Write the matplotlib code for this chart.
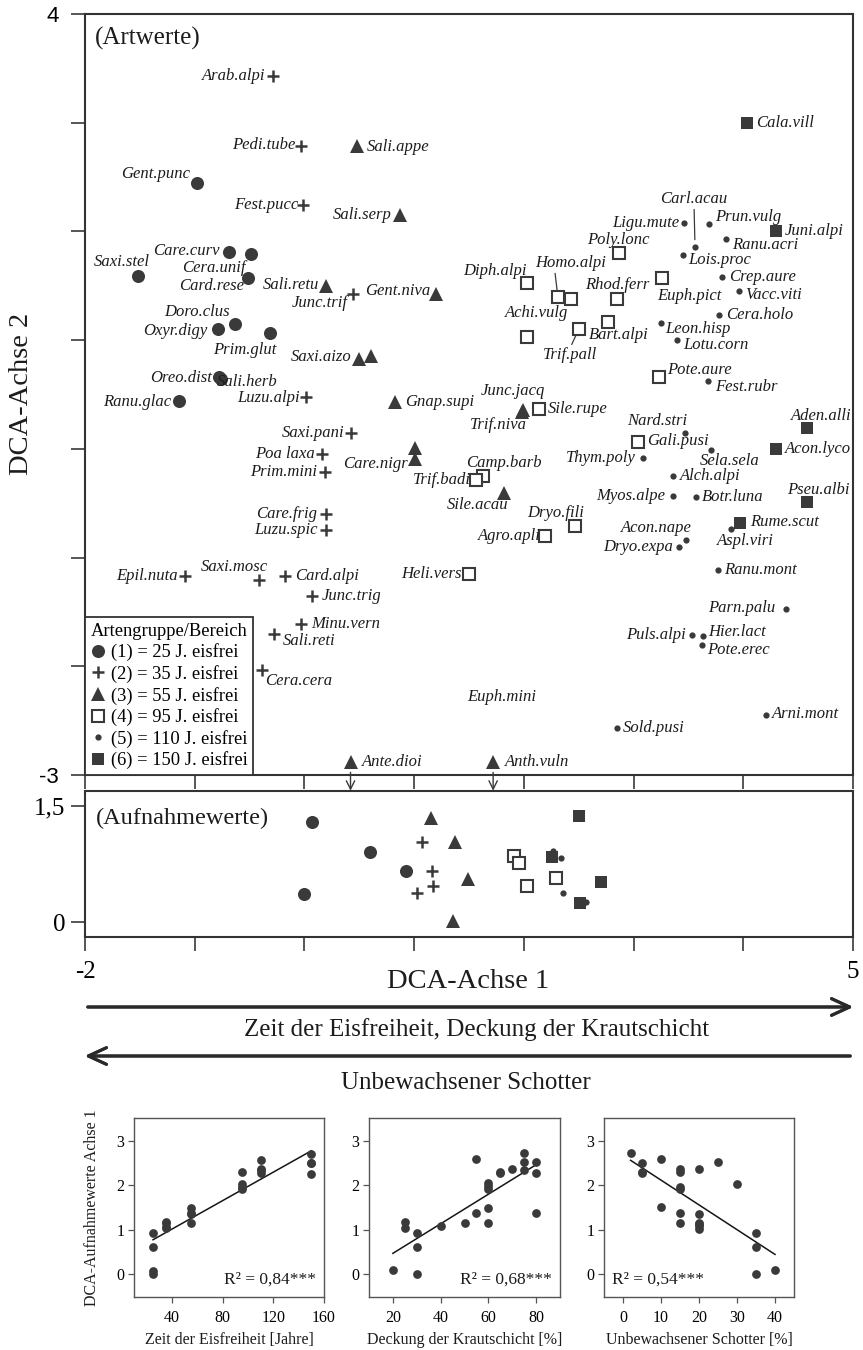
import matplotlib
matplotlib.use('Agg')
import matplotlib.pyplot as plt
from matplotlib.lines import Line2D
import numpy as np

plt.rcParams['font.family'] = ['Liberation Serif', 'DejaVu Serif']

DARK = '#3a3a3a'
INK = '#1c1c1c'

# ---- species scores (DCA axis 1 / axis 2), by species group ----
g1_names = ['Gent.punc', 'Care.curv', 'Cera.unif', 'Saxi.stel', 'Card.rese', 'Doro.clus',
            'Oxyr.digy', 'Prim.glut', 'Oreo.dist', 'Sali.herb', 'Ranu.glac']
g1_x = [-0.98, -0.69, -0.49, -1.52, -0.51, -0.63, -0.79, -0.31, -0.78, -0.76, -1.14]
g1_y = [2.45, 1.81, 1.79, 1.59, 1.57, 1.15, 1.10, 1.07, 0.66, 0.64, 0.44]

g2_names = ['Arab.alpi', 'Pedi.tube', 'Fest.pucc', 'Junc.trif', 'Luzu.alpi', 'Saxi.pani',
            'Poa laxa', 'Prim.mini', 'Care.frig', 'Luzu.spic', 'Epil.nuta', 'Saxi.mosc',
            'Card.alpi', 'Junc.trig', 'Minu.vern', 'Sali.reti', 'Cera.cera']
g2_x = [-0.29, -0.03, -0.01, 0.44, 0.01, 0.42, 0.16, 0.19, 0.20, 0.20, -1.09, -0.41,
        -0.18, 0.07, -0.03, -0.28, -0.39]
g2_y = [3.43, 2.79, 2.24, 1.42, 0.48, 0.15, -0.05, -0.21, -0.60, -0.75, -1.17, -1.21,
        -1.17, -1.35, -1.61, -1.70, -2.03]

g3_names = ['Sali.appe', 'Sali.serp', 'Sali.retu', 'Gent.niva', 'Saxi.aizo', '', 'Gnap.supi',
            '', 'Care.nigr', 'Junc.jacq', 'Trif.niva', 'Sile.acau', 'Ante.dioi', 'Anth.vuln']
g3_x = [0.48, 0.87, 0.20, 1.20, 0.50, 0.61, 0.83, 1.01, 1.01, 1.99, 1.98, 1.82, 0.42, 1.72]
g3_y = [2.79, 2.15, 1.50, 1.42, 0.83, 0.85, 0.43, 0.01, -0.09, 0.36, 0.34, -0.41, -2.88, -2.88]

g4_names = ['Poly.lonc', 'Diph.alpi', 'Euph.pict', 'Homo.alpi', '', 'Rhod.ferr', 'Bart.alpi',
            'Trif.pall', 'Achi.vulg', 'Pote.aure', 'Sile.rupe', 'Gali.pusi', 'Camp.barb',
            'Trif.badi', 'Dryo.fili', 'Agro.apli', 'Heli.vers']
g4_x = [2.87, 2.03, 3.26, 2.31, 2.43, 2.85, 2.77, 2.50, 2.03, 3.23, 2.14, 3.04, 1.63,
        1.56, 2.47, 2.19, 1.50]
g4_y = [1.80, 1.53, 1.57, 1.40, 1.38, 1.38, 1.17, 1.10, 1.03, 0.66, 0.37, 0.06, -0.25,
        -0.29, -0.71, -0.80, -1.15]

g5_names = ['Carl.acau', 'Ligu.mute', 'Prun.vulg', 'Ranu.acri', 'Lois.proc', 'Crep.aure',
            'Vacc.viti', 'Cera.holo', 'Leon.hisp', 'Lotu.corn', 'Fest.rubr', 'Nard.stri',
            'Sela.sela', 'Thym.poly', 'Alch.alpi', 'Myos.alpe', 'Botr.luna', 'Aspl.viri',
            'Acon.nape', 'Dryo.expa', 'Ranu.mont', 'Parn.palu', 'Puls.alpi', 'Hier.lact',
            'Pote.erec', 'Arni.mont', 'Sold.pusi']
g5_x = [3.56, 3.46, 3.69, 3.84, 3.45, 3.81, 3.96, 3.78, 3.25, 3.40, 3.68, 3.47, 3.71, 3.09,
        3.36, 3.36, 3.57, 3.89, 3.48, 3.41, 3.77, 4.39, 3.53, 3.63, 3.62, 4.21, 2.85]
g5_y = [1.86, 2.08, 2.07, 1.93, 1.78, 1.58, 1.45, 1.23, 1.16, 1.00, 0.62, 0.15, -0.01,
        -0.08, -0.25, -0.43, -0.44, -0.74, -0.84, -0.90, -1.11, -1.47, -1.71, -1.72,
        -1.80, -2.45, -2.57]

g6_names = ['Cala.vill', 'Juni.alpi', 'Aden.alli', 'Acon.lyco', 'Pseu.albi', 'Rume.scut']
g6_x = [4.03, 4.30, 4.58, 4.30, 4.58, 3.97]
g6_y = [3.00, 2.00, 0.19, 0.00, -0.49, -0.68]

# species printed without symbol
nosym_names = ['Euph.mini']
nosym_x = [1.80]
nosym_y = [-2.28]

off_scale = ['Ante.dioi', 'Anth.vuln']

group_labels = ['(1) = 25 J. eisfrei', '(2) = 35 J. eisfrei', '(3) = 55 J. eisfrei',
                '(4) = 95 J. eisfrei', '(5) = 110 J. eisfrei', '(6) = 150 J. eisfrei']

# ---- releve scores ----
rel_group = [1, 1, 1, 1, 2, 2, 2, 2, 3, 3, 3, 3, 4, 4, 4, 4, 5, 5, 5, 5, 6, 6, 6, 6]
rel_years = [25, 25, 25, 25, 35, 35, 35, 35, 55, 55, 55, 55, 95, 95, 95, 95,
             110, 110, 110, 110, 150, 150, 150, 150]
rel_dca1 = [0.07, 0.60, 0.93, 0.00, 1.07, 1.16, 1.17, 1.03, 1.15, 1.37, 1.49, 1.35,
            1.91, 1.96, 2.03, 2.29, 2.27, 2.34, 2.36, 2.57, 2.50, 2.26, 2.70, 2.51]
rel_dca2 = [1.29, 0.91, 0.66, 0.36, 1.03, 0.66, 0.47, 0.38, 1.35, 1.03, 0.56, 0.01,
            0.85, 0.76, 0.47, 0.57, 0.92, 0.83, 0.38, 0.26, 1.37, 0.84, 0.52, 0.25]

cover_pct = [20, 25, 25, 30, 30, 30, 40, 50, 55, 55, 60, 60, 60, 60, 60, 65, 65, 70,
             75, 75, 75, 80, 80, 80]
cover_dca1 = [0.09, 1.17, 1.04, 0.93, 0.60, 0.00, 1.08, 1.15, 2.60, 1.37, 1.16, 1.50,
              1.92, 1.98, 2.05, 2.27, 2.30, 2.38, 2.72, 2.52, 2.35, 2.52, 2.28, 1.37]

gravel_pct = [2, 5, 5, 5, 10, 10, 15, 15, 15, 15, 15, 15, 20, 20, 20, 20, 20, 20, 25, 30,
              35, 35, 35, 40]
gravel_dca1 = [2.72, 2.51, 2.29, 2.27, 2.59, 1.51, 2.37, 2.29, 1.97, 1.92, 1.38, 1.16,
               2.37, 1.36, 1.16, 1.08, 1.02, 1.12, 2.52, 2.04, 0.93, 0.60, 0.00, 0.08]

# ---- label placement (pixel offsets from the symbol) ----
LABEL_OFFSET = {
    'Gent.punc': (-7, 9, 'right'), 'Care.curv': (-9, 1, 'right'), 'Cera.unif': (-5, -14, 'right'),
    'Saxi.stel': (12, 14, 'right'), 'Card.rese': (-4, -8, 'right'), 'Doro.clus': (-5, 12, 'right'),
    'Oxyr.digy': (-10, -2, 'right'), 'Prim.glut': (6, -17, 'right'), 'Oreo.dist': (-7, -1, 'right'),
    'Sali.herb': (-4, -3, 'left'), 'Ranu.glac': (-8, -1, 'right'),
    'Arab.alpi': (-7, 0, 'right'), 'Pedi.tube': (-6, 1, 'right'), 'Fest.pucc': (-5, 0, 'right'),
    'Junc.trif': (-5, -9, 'right'), 'Luzu.alpi': (-6, -1, 'right'), 'Saxi.pani': (-6, 0, 'right'),
    'Poa laxa': (-7, 0, 'right'), 'Prim.mini': (-8, 0, 'right'), 'Care.frig': (-9, 0, 'right'),
    'Luzu.spic': (-9, 0, 'right'), 'Epil.nuta': (-7, 0, 'right'), 'Saxi.mosc': (8, 13, 'right'),
    'Card.alpi': (10, 0, 'left'), 'Junc.trig': (10, 0, 'left'), 'Minu.vern': (10, 0, 'left'),
    'Sali.reti': (9, -7, 'left'), 'Cera.cera': (3, -11, 'left'),
    'Sali.appe': (10, -1, 'left'), 'Sali.serp': (-8, 0, 'right'), 'Sali.retu': (-7, 1, 'right'),
    'Gent.niva': (-6, 3, 'right'), 'Saxi.aizo': (-8, 2, 'right'), 'Gnap.supi': (10, 0, 'left'),
    'Care.nigr': (-7, -5, 'right'), 'Junc.jacq': (-10, 19, 'center'), 'Trif.niva': (-23, -13, 'center'),
    'Sile.acau': (4, -12, 'right'), 'Ante.dioi': (11, 0, 'left'), 'Anth.vuln': (12, 0, 'left'),
    'Poly.lonc': (-1, 13, 'center'), 'Diph.alpi': (0, 12, 'right'), 'Euph.pict': (-5, -18, 'left'),
    'Homo.alpi': (13, 34, 'center'), 'Rhod.ferr': (0, 14, 'center'), 'Bart.alpi': (-19, -13, 'left'),
    'Trif.pall': (-9, -26, 'center'), 'Achi.vulg': (9, 24, 'center'), 'Pote.aure': (8, 7, 'left'),
    'Sile.rupe': (9, 0, 'left'), 'Gali.pusi': (9, 1, 'left'), 'Camp.barb': (-17, 13, 'left'),
    'Trif.badi': (-5, 0, 'right'), 'Dryo.fili': (9, 13, 'right'), 'Agro.apli': (-4, 0, 'right'),
    'Heli.vers': (-7, 0, 'right'),
    'Carl.acau': (-1, 48, 'center'), 'Ligu.mute': (-5, 0, 'right'), 'Prun.vulg': (6, 7, 'left'),
    'Ranu.acri': (6, -6, 'left'), 'Lois.proc': (5, -5, 'left'), 'Crep.aure': (7, 0, 'left'),
    'Vacc.viti': (6, -4, 'left'), 'Cera.holo': (7, 0, 'left'), 'Leon.hisp': (4, -6, 'left'),
    'Lotu.corn': (6, -5, 'left'), 'Fest.rubr': (7, -6, 'left'), 'Nard.stri': (2, 12, 'right'),
    'Sela.sela': (-12, -11, 'left'), 'Thym.poly': (-8, 0, 'right'), 'Alch.alpi': (7, 0, 'left'),
    'Myos.alpe': (-8, 0, 'right'), 'Botr.luna': (6, 0, 'left'), 'Aspl.viri': (-14, -12, 'left'),
    'Acon.nape': (6, 12, 'right'), 'Dryo.expa': (-5, 0, 'right'), 'Ranu.mont': (6, 0, 'left'),
    'Parn.palu': (-11, 1, 'right'), 'Puls.alpi': (-6, 0, 'right'), 'Hier.lact': (5, 4, 'left'),
    'Pote.erec': (5, -5, 'left'), 'Arni.mont': (6, 1, 'left'), 'Sold.pusi': (6, 0, 'left'),
    'Euph.mini': (0, 0, 'center'),
    'Cala.vill': (10, 0, 'left'), 'Juni.alpi': (9, 0, 'left'), 'Aden.alli': (45, 12, 'right'),
    'Acon.lyco': (9, 0, 'left'), 'Pseu.albi': (43, 12, 'right'), 'Rume.scut': (10, 1, 'left'),
}
LEADERS = {'Homo.alpi': (0.27, 0.1), 'Trif.pall': (0.5, 0.9), 'Carl.acau': (0.5, 0.1)}

STYLE = {
    1: dict(marker='o', ms=9.4, mfc=DARK, mec=DARK, mew=0),
    2: dict(marker='+', ms=8.5, mec=DARK, mew=1.8),
    3: dict(marker='^', ms=10, mfc=DARK, mec=DARK, mew=0),
    4: dict(marker='s', ms=8, mfc='white', mec=DARK, mew=1.5),
    5: dict(marker='o', ms=4.5, mfc=DARK, mec=DARK, mew=0),
    6: dict(marker='s', ms=8, mfc=DARK, mec=DARK, mew=0),
}

W, H = 863, 1350


def box(l, t, r, b):
    return [l / W, 1 - b / H, (r - l) / W, (b - t) / H]


fig = plt.figure(figsize=(W / 100, H / 100), dpi=100)

# ---------------- species plot ----------------
ax = fig.add_axes(box(85, 14, 853, 775))
ax.set_xlim(-2, 5)
ax.set_ylim(-3, 4)

groups = {1: (g1_names, g1_x, g1_y), 2: (g2_names, g2_x, g2_y), 3: (g3_names, g3_x, g3_y),
          4: (g4_names, g4_x, g4_y), 5: (g5_names, g5_x, g5_y), 6: (g6_names, g6_x, g6_y)}


def put_label(name, x, y):
    dx, dy, ha = LABEL_OFFSET[name]
    kw = {}
    if name in LEADERS:
        kw['arrowprops'] = dict(arrowstyle='-', lw=0.9, color=DARK, shrinkA=0, shrinkB=5,
                                relpos=LEADERS[name])
    ax.annotate(name, (x, y), xytext=(dx, dy), textcoords='offset pixels', ha=ha,
                va='center', style='italic', fontsize=12, color=INK, zorder=4, **kw)


for g, (names, xs, ys) in groups.items():
    ax.plot(xs, ys, linestyle='none', zorder=3, **STYLE[g])
    for n, x, y in zip(names, xs, ys):
        if n:
            put_label(n, x, y)
        if n in off_scale:
            ax.annotate('', xy=(x, -3.17), xytext=(x, -2.95),
                        arrowprops=dict(arrowstyle='->,head_length=0.6,head_width=0.3',
                                        lw=1, color=DARK),
                        annotation_clip=False)

for n, x, y in zip(nosym_names, nosym_x, nosym_y):
    put_label(n, x, y)

ax.text(0.013, 0.968, '(Artwerte)', transform=ax.transAxes, fontsize=18, va='center',
        color=INK)

ax.set_xticks(range(-2, 6))
ax.set_xticklabels([])
ax.set_yticks(range(-3, 5))
ax.set_yticklabels(['-3', '', '', '', '', '', '', '4'])
ax.tick_params(direction='out', length=10, width=1.2, color=DARK)
ax.tick_params(axis='y', labelsize=16, pad=9)
for lbl in ax.get_yticklabels():
    lbl.set_fontfamily('Liberation Sans')
for s in ax.spines.values():
    s.set_linewidth(1.5)
    s.set_color('#333333')

handles = [Line2D([], [], linestyle='none', **STYLE[g]) for g in range(1, 7)]
leg = ax.legend(handles, group_labels, title='Artengruppe/Bereich', loc='lower left',
                bbox_to_anchor=(0, 0), borderaxespad=0, fontsize=13.3, title_fontsize=13.3,
                frameon=True, fancybox=False, framealpha=1, edgecolor='#333333',
                handlelength=0.8, handletextpad=0.3, labelspacing=0.2, borderpad=0.3,
                alignment='left')
leg.get_frame().set_linewidth(1.3)

# ---------------- releve plot ----------------
ax2 = fig.add_axes(box(85, 791, 853, 937))
ax2.set_xlim(-2, 5)
ax2.set_ylim(-0.194, 1.695)
for g in range(1, 7):
    xs = [x for x, gg in zip(rel_dca1, rel_group) if gg == g]
    ys = [y for y, gg in zip(rel_dca2, rel_group) if gg == g]
    ax2.plot(xs, ys, linestyle='none', zorder=3, **STYLE[g])
ax2.text(0.014, 0.815, '(Aufnahmewerte)', transform=ax2.transAxes, fontsize=17.5,
         va='center', color=INK)
ax2.set_xticks(range(-2, 6))
ax2.set_xticklabels(['-2', '', '', '', '', '', '', '5'])
ax2.set_yticks([0, 1.5])
ax2.set_yticklabels(['0', '1,5'])
ax2.tick_params(direction='out', length=10, width=1.2, color=DARK, labelsize=18)
ax2.tick_params(axis='y', pad=4)
ax2.tick_params(axis='x', pad=7)
for s in ax2.spines.values():
    s.set_linewidth(1.5)
    s.set_color('#333333')

fig.text(21 / W, 1 - 394 / H, 'DCA-Achse 2', rotation=90, fontsize=20.5, ha='center',
         va='center', color=INK)
fig.text(468 / W, 1 - 982 / H, 'DCA-Achse 1', fontsize=20.5, ha='center', va='center',
         color=INK)

# gradient arrows
fig.add_artist(plt.annotate('', xy=(856, H - 1007), xytext=(85, H - 1007),
                            xycoords='figure pixels',
                            arrowprops=dict(arrowstyle='->,head_length=1.3,head_width=0.6',
                                            lw=2.2, color='#2a2a2a')))
fig.text(477 / W, 1 - 1030 / H, 'Zeit der Eisfreiheit, Deckung der Krautschicht',
         fontsize=18, ha='center', va='center', color=INK)
fig.add_artist(plt.annotate('', xy=(82, H - 1056), xytext=(853, H - 1056),
                            xycoords='figure pixels',
                            arrowprops=dict(arrowstyle='->,head_length=1.3,head_width=0.6',
                                            lw=2.2, color='#2a2a2a')))
fig.text(466 / W, 1 - 1083 / H, 'Unbewachsener Schotter', fontsize=18, ha='center',
         va='center', color=INK)


# ---------------- regressions ----------------
def small_panel(rect, xs, ys, xlim, xticks, xlabel, r2, r2_left):
    a = fig.add_axes(rect)
    a.plot(xs, ys, 'o', ms=6.3, color=DARK, mew=0, zorder=3)
    k, d = np.polyfit(xs, ys, 1)
    xx = np.array([min(xs), max(xs)])
    a.plot(xx, k * xx + d, color='#151515', lw=1.1, zorder=2)
    a.set_xlim(*xlim)
    a.set_ylim(-0.52, 3.52)
    a.set_xticks(xticks)
    a.set_yticks([0, 1, 2, 3])
    a.tick_params(direction='out', length=4, width=0.9, color='#555555', labelsize=11.5)
    a.tick_params(axis='x', pad=5)
    a.tick_params(axis='y', pad=3)
    for s in a.spines.values():
        s.set_linewidth(1)
        s.set_color('#555555')
    a.set_xlabel(xlabel, fontsize=11.5, labelpad=5, color=INK)
    if r2_left:
        a.text(0.04, 0.05, r2, transform=a.transAxes, ha='left', va='bottom', fontsize=12.5,
               color=INK)
    else:
        a.text(0.96, 0.05, r2, transform=a.transAxes, ha='right', va='bottom', fontsize=12.5,
               color=INK)
    return a


p1 = small_panel(box(134, 1118, 324, 1297), rel_years, rel_dca1, (10, 160),
                 [40, 80, 120, 160], 'Zeit der Eisfreiheit [Jahre]', 'R² = 0,84***', False)
p1.set_ylabel('DCA-Aufnahmewerte Achse 1', fontsize=11.5, labelpad=12, color=INK)
small_panel(box(369, 1118, 560, 1297), cover_pct, cover_dca1, (10, 90),
            [20, 40, 60, 80], 'Deckung der Krautschicht [%]', 'R² = 0,68***', False)
small_panel(box(604, 1118, 794, 1297), gravel_pct, gravel_dca1, (-5, 45),
            [0, 10, 20, 30, 40], 'Unbewachsener Schotter [%]', 'R² = 0,54***', True)

fig.savefig('out.png', dpi=100)
